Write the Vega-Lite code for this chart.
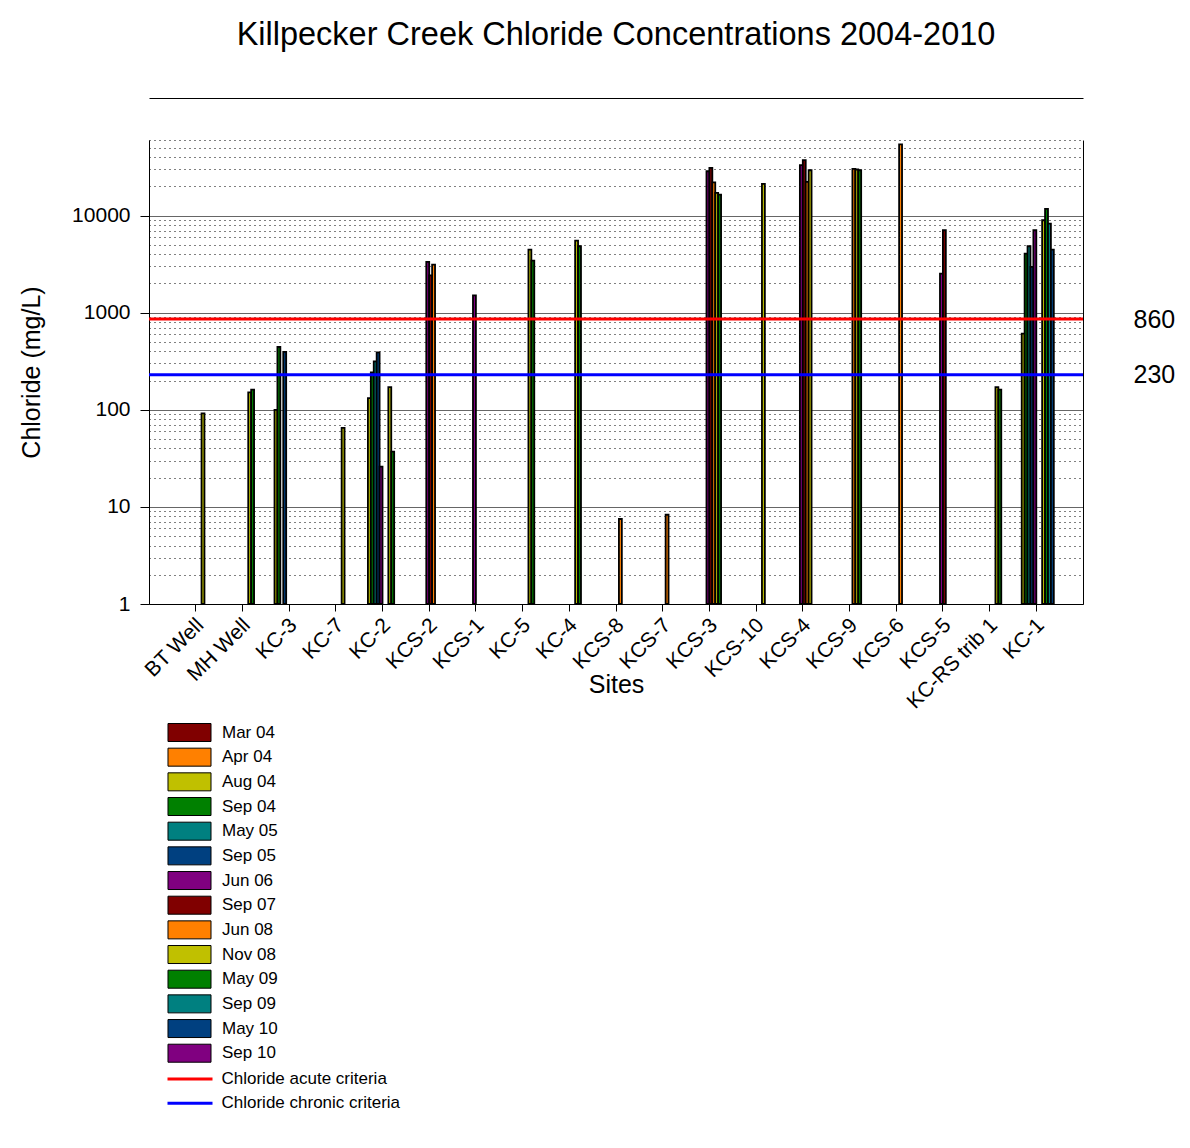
{
  "$schema": "https://vega.github.io/schema/vega-lite/v6.json",
  "width": 934,
  "height": 464,
  "autosize": {"type": "none"},
  "padding": {"left": 149, "top": 140, "right": 107, "bottom": 544},
  "background": "white",
  "config": {
    "view": {"stroke": null},
    "font": "Liberation Sans",
    "axis": {"labelFont": "Liberation Sans", "titleFont": "Liberation Sans", "labelColor": "black", "titleColor": "black"},
    "legend": {"labelFont": "Liberation Sans", "labelColor": "black"}
  },
  "title": {
    "text": "Killpecker Creek Chloride Concentrations 2004-2010",
    "fontSize": 32.5,
    "fontWeight": "normal",
    "font": "Liberation Sans",
    "color": "black",
    "anchor": "middle",
    "offset": 47
  },
  "datasets": {
    "bars": [
      {"site": "BT Well", "date": "Nov 08", "value": 92},
      {"site": "MH Well", "date": "Nov 08", "value": 151},
      {"site": "MH Well", "date": "May 09", "value": 161},
      {"site": "KC-3", "date": "Aug 04", "value": 100},
      {"site": "KC-3", "date": "Sep 04", "value": 443},
      {"site": "KC-3", "date": "Sep 05", "value": 394},
      {"site": "KC-7", "date": "Nov 08", "value": 65},
      {"site": "KC-2", "date": "Aug 04", "value": 132},
      {"site": "KC-2", "date": "Sep 04", "value": 242},
      {"site": "KC-2", "date": "May 05", "value": 315},
      {"site": "KC-2", "date": "Sep 05", "value": 390},
      {"site": "KC-2", "date": "Jun 06", "value": 26},
      {"site": "KC-2", "date": "Nov 08", "value": 171},
      {"site": "KC-2", "date": "May 09", "value": 37},
      {"site": "KCS-2", "date": "Jun 06", "value": 3334},
      {"site": "KCS-2", "date": "Sep 07", "value": 2426},
      {"site": "KCS-2", "date": "Jun 08", "value": 3126},
      {"site": "KCS-1", "date": "Jun 06", "value": 1508},
      {"site": "KC-5", "date": "Nov 08", "value": 4460},
      {"site": "KC-5", "date": "May 09", "value": 3440},
      {"site": "KC-4", "date": "Nov 08", "value": 5525},
      {"site": "KC-4", "date": "May 09", "value": 4830},
      {"site": "KCS-8", "date": "Jun 08", "value": 7.5},
      {"site": "KCS-7", "date": "Jun 08", "value": 8.3},
      {"site": "KCS-3", "date": "Jun 06", "value": 28600},
      {"site": "KCS-3", "date": "Sep 07", "value": 31000},
      {"site": "KCS-3", "date": "Jun 08", "value": 22000},
      {"site": "KCS-3", "date": "Nov 08", "value": 17150},
      {"site": "KCS-3", "date": "May 09", "value": 16450},
      {"site": "KCS-10", "date": "Nov 08", "value": 21230},
      {"site": "KCS-4", "date": "Jun 06", "value": 33000},
      {"site": "KCS-4", "date": "Sep 07", "value": 37200},
      {"site": "KCS-4", "date": "Jun 08", "value": 22250},
      {"site": "KCS-4", "date": "Nov 08", "value": 29300},
      {"site": "KCS-9", "date": "Jun 08", "value": 30300},
      {"site": "KCS-9", "date": "Nov 08", "value": 29800},
      {"site": "KCS-9", "date": "May 09", "value": 29300},
      {"site": "KCS-6", "date": "Jun 08", "value": 54000},
      {"site": "KCS-5", "date": "Jun 06", "value": 2520},
      {"site": "KCS-5", "date": "Sep 07", "value": 7060},
      {"site": "KC-RS trib 1", "date": "Nov 08", "value": 171},
      {"site": "KC-RS trib 1", "date": "May 09", "value": 161},
      {"site": "KC-1", "date": "Aug 04", "value": 608},
      {"site": "KC-1", "date": "Sep 04", "value": 4057},
      {"site": "KC-1", "date": "May 05", "value": 4830},
      {"site": "KC-1", "date": "Sep 05", "value": 2959},
      {"site": "KC-1", "date": "Jun 06", "value": 7060},
      {"site": "KC-1", "date": "Nov 08", "value": 8950},
      {"site": "KC-1", "date": "May 09", "value": 11720},
      {"site": "KC-1", "date": "Sep 09", "value": 8270},
      {"site": "KC-1", "date": "May 10", "value": 4460}
    ],
    "criteria": [
      {"name": "Chloride acute criteria", "value": 860},
      {"name": "Chloride chronic criteria", "value": 230}
    ]
  },
  "layer": [
    {
      "data": {"name": "bars"},
      "mark": {"type": "bar", "stroke": "black", "strokeWidth": 1.8},
      "encoding": {
        "x": {
          "field": "site",
          "type": "nominal",
          "sort": ["BT Well", "MH Well", "KC-3", "KC-7", "KC-2", "KCS-2", "KCS-1", "KC-5", "KC-4", "KCS-8", "KCS-7", "KCS-3", "KCS-10", "KCS-4", "KCS-9", "KCS-6", "KCS-5", "KC-RS trib 1", "KC-1"],
          "scale": {
            "domain": ["BT Well", "MH Well", "KC-3", "KC-7", "KC-2", "KCS-2", "KCS-1", "KC-5", "KC-4", "KCS-8", "KCS-7", "KCS-3", "KCS-10", "KCS-4", "KCS-9", "KCS-6", "KCS-5", "KC-RS trib 1", "KC-1"],
            "paddingInner": 0,
            "paddingOuter": 0.5
          },
          "axis": {
            "orient": "bottom",
            "title": "Sites",
            "titleFontSize": 25,
            "titleFontWeight": "normal",
            "titlePadding": -40,
            "labelAngle": -45,
            "labelFontSize": 21,
            "labelOverlap": false,
            "labelPadding": 3,
            "labelOffset": -3,
            "tickSize": 7,
            "tickColor": "black",
            "domainColor": "black",
            "grid": false
          }
        },
        "xOffset": {
          "field": "date",
          "type": "nominal",
          "scale": {
            "domain": ["Mar 04", "Apr 04", "Aug 04", "Sep 04", "May 05", "Sep 05", "Jun 06", "Sep 07", "Jun 08", "Nov 08", "May 09", "Sep 09", "May 10", "Sep 10"],
            "paddingInner": 0,
            "paddingOuter": 2.5
          }
        },
        "y": {
          "field": "value",
          "type": "quantitative",
          "scale": {"type": "log", "domain": [1, 60000], "nice": false, "zero": false},
          "axis": {
            "orient": "left",
            "title": "Chloride (mg/L)",
            "titleFontSize": 25,
            "titleFontWeight": "normal",
            "titlePadding": 27,
            "values": [1, 2, 3, 4, 5, 6, 7, 8, 9, 10, 20, 30, 40, 50, 60, 70, 80, 90, 100, 200, 300, 400, 500, 600, 700, 800, 900, 1000, 2000, 3000, 4000, 5000, 6000, 7000, 8000, 9000, 10000, 20000, 30000, 40000, 50000, 60000],
            "labelExpr": "indexof([1,10,100,1000,10000], datum.value) >= 0 ? format(datum.value, 'd') : ''",
            "labelFontSize": 21,
            "labelPadding": 10,
            "labelOverlap": false,
            "labelFlush": false,
            "tickSize": 9,
            "tickColor": "black",
            "tickOpacity": {"condition": {"test": "indexof([1,10,100,1000,10000], datum.value) >= 0", "value": 1}, "value": 0},
            "domainColor": "black",
            "grid": true,
            "gridColor": {"condition": {"test": "indexof([1,10,100,1000,10000], datum.value) >= 0", "value": "#333333"}, "value": "#000000"},
            "gridDash": {"condition": {"test": "indexof([1,10,100,1000,10000], datum.value) >= 0", "value": [1, 0]}, "value": [1, 4]},
            "gridOpacity": 1,
            "gridWidth": 1
          }
        },
        "y2": {"datum": 1},
        "fill": {
          "field": "date",
          "type": "nominal",
          "scale": {
            "domain": ["Mar 04", "Apr 04", "Aug 04", "Sep 04", "May 05", "Sep 05", "Jun 06", "Sep 07", "Jun 08", "Nov 08", "May 09", "Sep 09", "May 10", "Sep 10"],
            "range": ["#800000", "#ff8000", "#c0c000", "#008000", "#008080", "#004080", "#800080", "#800000", "#ff8000", "#c0c000", "#008000", "#008080", "#004080", "#800080"]
          },
          "legend": {
            "orient": "none",
            "legendX": 19,
            "legendY": 583,
            "title": null,
            "padding": 0,
            "direction": "vertical",
            "symbolType": "M-2.39,-1H2.39V1H-2.39Z",
            "symbolSize": 324,
            "symbolStrokeColor": "black",
            "symbolStrokeWidth": 1,
            "symbolOpacity": 1,
            "symbolOffset": 12,
            "labelFontSize": 17,
            "labelOffset": 23,
            "labelLimit": 400,
            "rowPadding": 1.67
          }
        }
      }
    },
    {
      "data": {"name": "bars"},
      "mark": {"type": "point", "opacity": 0},
      "encoding": {
        "x": {
          "field": "site",
          "type": "nominal",
          "axis": {"orient": "top", "offset": 42, "labels": false, "ticks": false, "domain": true, "domainColor": "black", "title": null, "grid": false}
        },
        "y": {"field": "value", "type": "quantitative", "axis": null}
      }
    },
    {
      "data": {"name": "criteria"},
      "mark": {"type": "rule", "strokeWidth": 3},
      "encoding": {
        "y": {
          "field": "value",
          "type": "quantitative",
          "scale": {"type": "log", "domain": [1, 60000], "nice": false, "zero": false},
          "axis": {
            "orient": "right",
            "values": [230, 860],
            "labelExpr": "format(datum.value, 'd')",
            "labelFontSize": 25,
            "labelPadding": 50,
            "ticks": false,
            "grid": false,
            "domain": true,
            "domainColor": "black",
            "title": null
          }
        },
        "stroke": {
          "field": "name",
          "type": "nominal",
          "scale": {"domain": ["Chloride acute criteria", "Chloride chronic criteria"], "range": ["#ff0000", "#0000ff"]},
          "legend": {
            "orient": "none",
            "legendX": 18,
            "legendY": 928.4,
            "title": null,
            "padding": 0,
            "direction": "vertical",
            "symbolType": "M-2.5,0H2.5",
            "symbolSize": 324,
            "symbolStrokeWidth": 3,
            "symbolOffset": 12.5,
            "labelFontSize": 17,
            "labelOffset": 21,
            "labelLimit": 400,
            "rowPadding": 5.34
          }
        }
      }
    }
  ],
  "resolve": {"axis": {"x": "independent", "y": "independent"}, "legend": {"fill": "independent", "stroke": "independent"}}
}
